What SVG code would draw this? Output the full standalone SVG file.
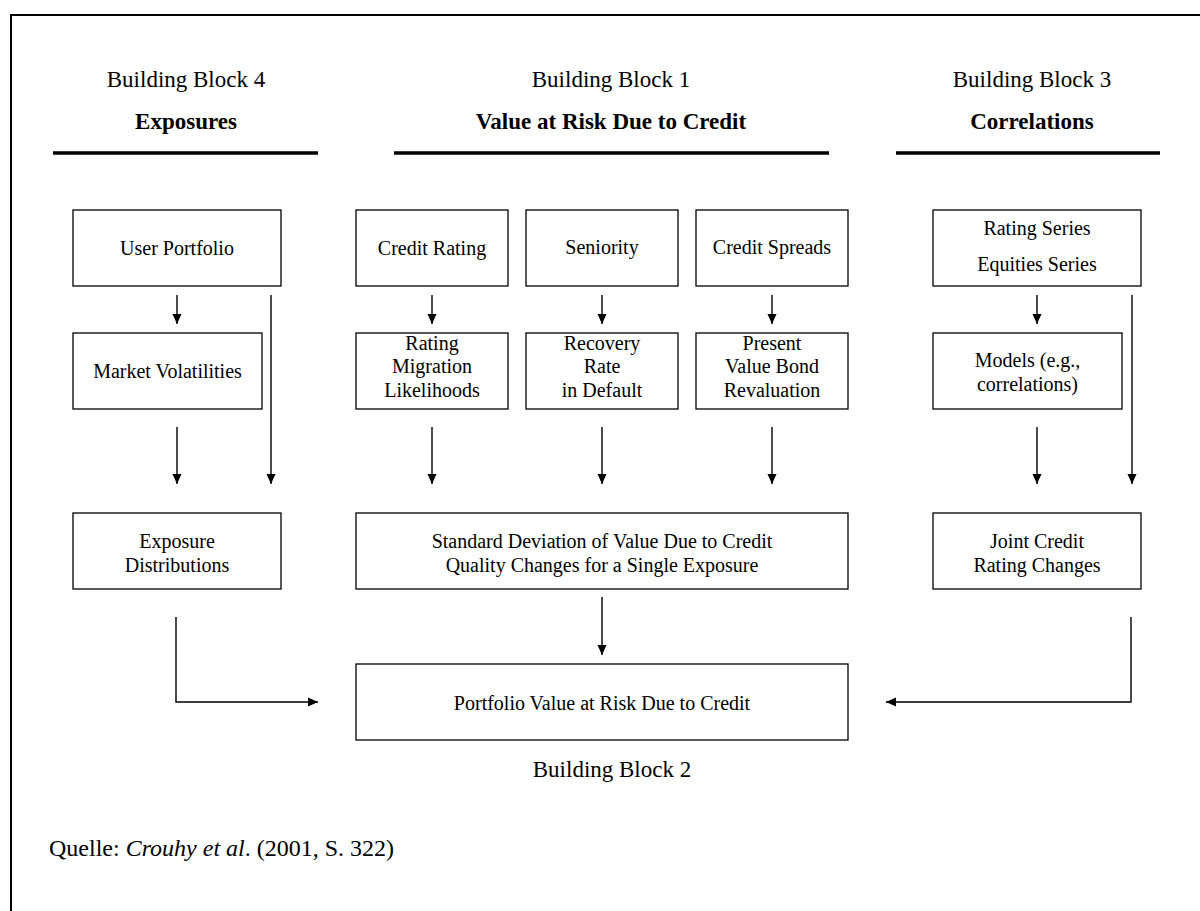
<svg xmlns="http://www.w3.org/2000/svg" width="1200" height="911" viewBox="0 0 1200 911">
<defs>
<marker id="ah" viewBox="0 0 10 10" refX="10" refY="5" markerWidth="10" markerHeight="10" markerUnits="userSpaceOnUse" orient="auto">
<path d="M0,0.5 L10,5 L0,9.5 z" fill="#000"/>
</marker>
<style>
text{font-family:"Liberation Serif","Times New Roman",serif;fill:#000;text-anchor:middle}
.h{font-size:23px}
.hb{font-size:23px;font-weight:bold}
.t{font-size:20px}
.box{fill:#fff;stroke:#000;stroke-width:1.3}
.hl{stroke:#000;stroke-width:3.5}
.ca{fill:none;stroke:#000;stroke-width:1.4;marker-end:url(#ah)}
</style>
</defs>
<rect width="1200" height="911" fill="#fff"/>
<path d="M11,911 V15 H1200" fill="none" stroke="#000" stroke-width="2"/>

<g id="header-bb4">
<text class="h" x="186" y="87">Building Block 4</text>
<text class="hb" x="186" y="129">Exposures</text>
<line class="hl" x1="53" y1="153" x2="318" y2="153"/>
</g>
<g id="header-bb1">
<text class="h" x="611" y="87">Building Block 1</text>
<text class="hb" x="611" y="129">Value at Risk Due to Credit</text>
<line class="hl" x1="394" y1="153" x2="829" y2="153"/>
</g>
<g id="header-bb3">
<text class="h" x="1032" y="87">Building Block 3</text>
<text class="hb" x="1032" y="129">Correlations</text>
<line class="hl" x1="896" y1="153" x2="1160" y2="153"/>
</g>

<g id="user-portfolio">
<rect class="box" x="73" y="210" width="208" height="76"/>
<text class="t" x="177" y="255">User Portfolio</text>
</g>
<g id="market-volatilities">
<rect class="box" x="73" y="333" width="189" height="76"/>
<text class="t" x="167.5" y="378">Market Volatilities</text>
</g>
<g id="exposure-distributions">
<rect class="box" x="73" y="513" width="208" height="76"/>
<text class="t" x="177" y="548">Exposure</text>
<text class="t" x="177" y="572">Distributions</text>
</g>

<g id="credit-rating">
<rect class="box" x="356" y="210" width="152" height="76"/>
<text class="t" x="432" y="255">Credit Rating</text>
</g>
<g id="seniority">
<rect class="box" x="526" y="210" width="152" height="76"/>
<text class="t" x="602" y="254">Seniority</text>
</g>
<g id="credit-spreads">
<rect class="box" x="696" y="210" width="152" height="76"/>
<text class="t" x="772" y="254">Credit Spreads</text>
</g>
<g id="rating-migration">
<rect class="box" x="356" y="333" width="152" height="76"/>
<text class="t" x="432" y="350">Rating</text>
<text class="t" x="432" y="373">Migration</text>
<text class="t" x="432" y="397">Likelihoods</text>
</g>
<g id="recovery-rate">
<rect class="box" x="526" y="333" width="152" height="76"/>
<text class="t" x="602" y="350">Recovery</text>
<text class="t" x="602" y="373">Rate</text>
<text class="t" x="602" y="397">in Default</text>
</g>
<g id="present-value">
<rect class="box" x="696" y="333" width="152" height="76"/>
<text class="t" x="772" y="350">Present</text>
<text class="t" x="772" y="373">Value Bond</text>
<text class="t" x="772" y="397">Revaluation</text>
</g>
<g id="std-deviation">
<rect class="box" x="356" y="513" width="492" height="76"/>
<text class="t" x="602" y="548">Standard Deviation of Value Due to Credit</text>
<text class="t" x="602" y="572">Quality Changes for a Single Exposure</text>
</g>
<g id="portfolio-var">
<rect class="box" x="356" y="664" width="492" height="76"/>
<text class="t" x="602" y="710">Portfolio Value at Risk Due to Credit</text>
</g>
<g id="bb2-label">
<text class="h" x="612" y="777">Building Block 2</text>
</g>

<g id="rating-series">
<rect class="box" x="933" y="210" width="208" height="76"/>
<text class="t" x="1037" y="235">Rating Series</text>
<text class="t" x="1037" y="271">Equities Series</text>
</g>
<g id="models">
<rect class="box" x="933" y="333" width="189" height="76"/>
<text class="t" x="1027.5" y="367">Models (e.g.,</text>
<text class="t" x="1027.5" y="391">correlations)</text>
</g>
<g id="joint-credit">
<rect class="box" x="933" y="513" width="208" height="76"/>
<text class="t" x="1037" y="548">Joint Credit</text>
<text class="t" x="1037" y="572">Rating Changes</text>
</g>

<g id="connectors">
<line class="ca" x1="177" y1="295" x2="177" y2="324"/>
<line class="ca" x1="177" y1="427" x2="177" y2="484"/>
<line class="ca" x1="271" y1="295" x2="271" y2="484"/>
<path class="ca" d="M176,617 V702 H318"/>
<line class="ca" x1="432" y1="295" x2="432" y2="324"/>
<line class="ca" x1="602" y1="295" x2="602" y2="324"/>
<line class="ca" x1="772" y1="295" x2="772" y2="324"/>
<line class="ca" x1="432" y1="427" x2="432" y2="484"/>
<line class="ca" x1="602" y1="427" x2="602" y2="484"/>
<line class="ca" x1="772" y1="427" x2="772" y2="484"/>
<line class="ca" x1="602" y1="597" x2="602" y2="655"/>
<line class="ca" x1="1037" y1="295" x2="1037" y2="324"/>
<line class="ca" x1="1037" y1="427" x2="1037" y2="484"/>
<line class="ca" x1="1132" y1="295" x2="1132" y2="484"/>
<path class="ca" d="M1131,617 V702 H886"/>
</g>

<g id="source">
<text x="49" y="856" style="text-anchor:start;font-size:24px">Quelle: <tspan font-style="italic">Crouhy et al</tspan>. (2001, S. 322)</text>
</g>
</svg>
